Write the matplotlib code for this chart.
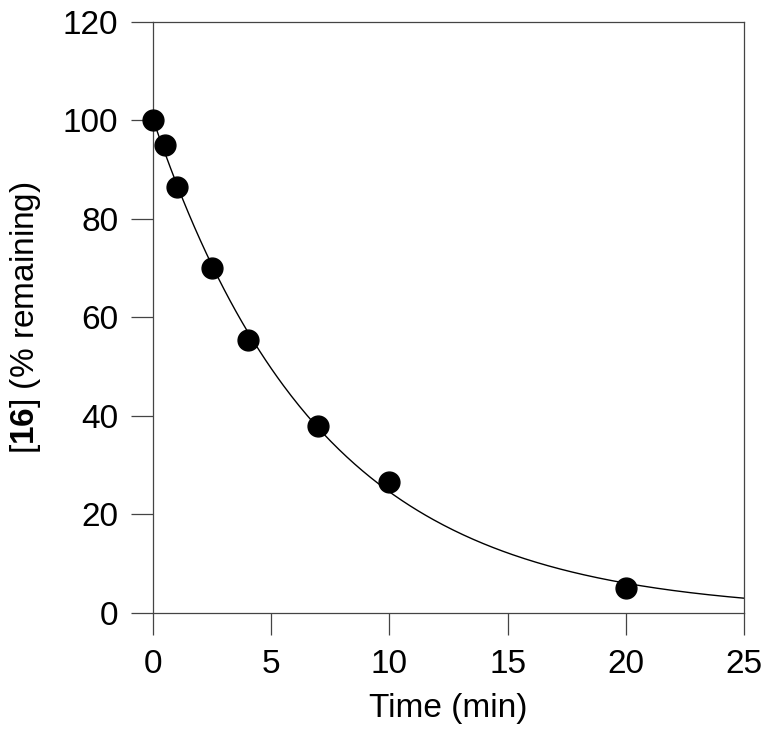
import matplotlib.pyplot as plt
import numpy as np

plt.rcParams['font.family'] = ['Liberation Sans', 'DejaVu Sans']
plt.rcParams['mathtext.fontset'] = 'custom'
plt.rcParams['mathtext.rm'] = 'Liberation Sans'
plt.rcParams['mathtext.bf'] = 'Liberation Sans:bold'

# measured points
time_min = [0, 0.5, 1, 2.5, 4, 7, 10, 20]
remaining = [100, 95.1, 86.5, 70.0, 55.4, 37.9, 26.5, 5.1]

x_ticks = [0, 5, 10, 15, 20, 25]
y_ticks = [0, 20, 40, 60, 80, 100, 120]


def fit_decay(t, y):
    # least squares fit of y = A*exp(-k t), grid over k, A closed form
    t = np.asarray(t, float)
    y = np.asarray(y, float)
    best = None
    for k in np.linspace(0.01, 1.0, 20000):
        e = np.exp(-k * t)
        a = (e @ y) / (e @ e)
        err = np.sum((y - a * e) ** 2)
        if best is None or err < best[0]:
            best = (err, a, k)
    return best[1], best[2]


amp, rate = fit_decay(time_min, remaining)
t_fit = np.linspace(0, 25, 300)
y_fit = amp * np.exp(-rate * t_fit)

fig = plt.figure(figsize=(7.65, 7.42), dpi=100)
ax = fig.add_axes([0.2, 0.174, 0.7725, 0.7965])

ax.plot(t_fit, y_fit, color='black', lw=1.0, zorder=2)
ax.plot(time_min, remaining, 'o', color='black', markersize=15, zorder=3,
        clip_on=False)

ax.set_xlim(0, 25)
ax.set_ylim(0, 120)
ax.set_xticks(x_ticks)
ax.set_yticks(y_ticks)

for s in ax.spines.values():
    s.set_color('#444444')
    s.set_linewidth(0.9)

ax.tick_params(direction='out', length=16, width=0.9, color='#444444',
               labelsize=24)
ax.tick_params(axis='x', pad=10)
ax.tick_params(axis='y', pad=9)

ax.set_xlabel('Time (min)', fontsize=24, labelpad=9)
ax.set_ylabel(r'[$\mathbf{16}$] (% remaining)', fontsize=24, labelpad=14)

plt.savefig('out.png', dpi=100)
